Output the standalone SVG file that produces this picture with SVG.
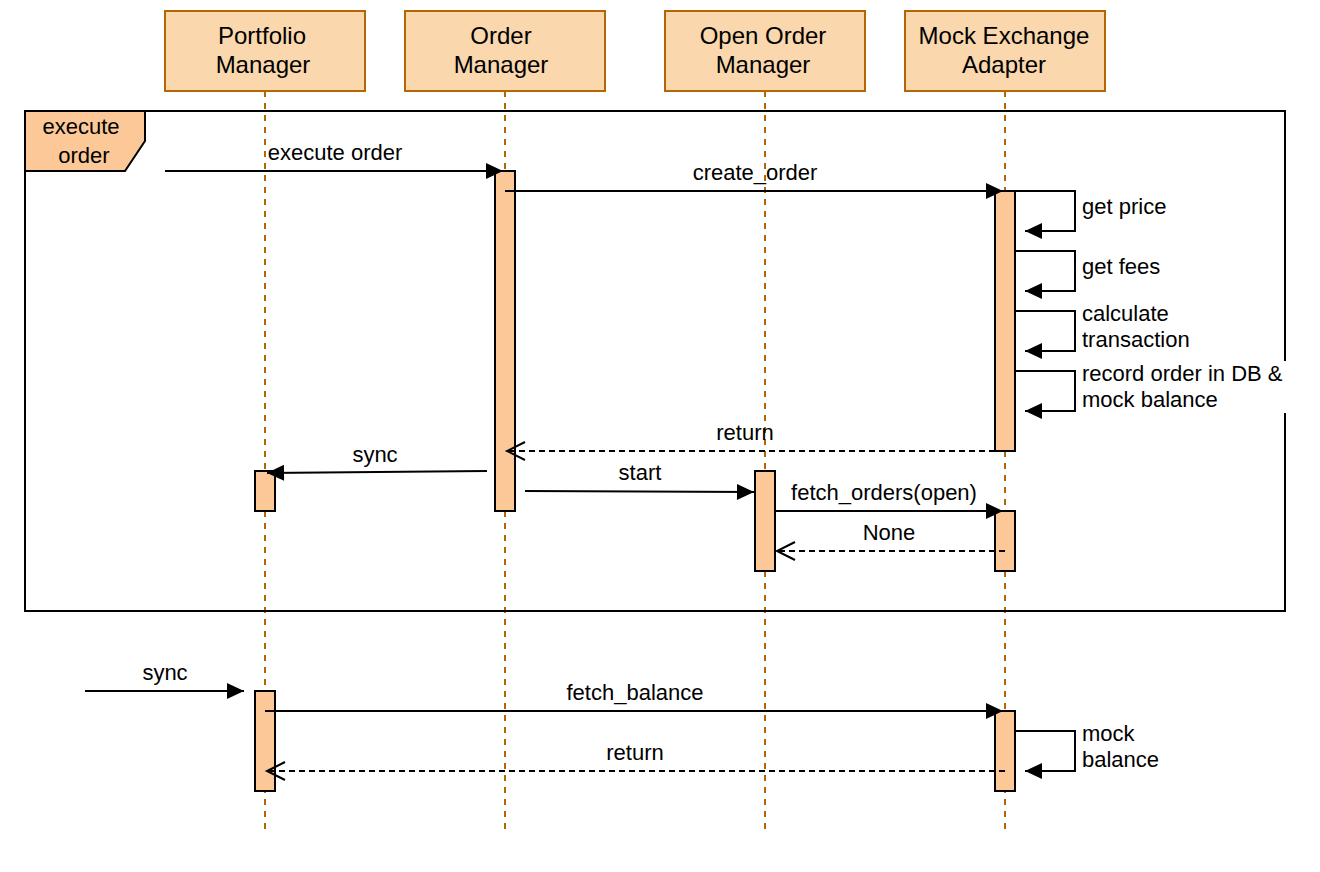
<svg xmlns="http://www.w3.org/2000/svg" width="1320" height="872" viewBox="0 0 1320 872">
<defs>
<style>
text{font-family:"Liberation Sans",Arial,Helvetica,sans-serif;fill:#000}
.hdr rect{fill:#fad7ac;stroke:#b46504;stroke-width:2}
.hdr text{font-size:24px;text-anchor:middle}
.life{stroke:#b46504;stroke-width:2;stroke-dasharray:6 6;fill:none}
.act{fill:#fcc898;stroke:#000;stroke-width:2}
.msg{stroke:#000;stroke-width:2;fill:none;marker-end:url(#block)}
.ret{stroke:#000;stroke-width:2;fill:none;stroke-dasharray:6 4;marker-end:url(#open)}
.lbl{font-size:22px;text-anchor:middle}
.lbl-l{font-size:22px;text-anchor:start}
</style>
<marker id="block" markerUnits="userSpaceOnUse" markerWidth="18" markerHeight="18" refX="17" refY="8" orient="auto" overflow="visible">
<path d="M0,0 L17,8 L0,16 z" fill="#000"/>
</marker>
<marker id="open" markerUnits="userSpaceOnUse" markerWidth="20" markerHeight="20" refX="18" refY="9" orient="auto" overflow="visible">
<path d="M0,0 L18,9 L0,18" fill="none" stroke="#000" stroke-width="2"/>
</marker>
</defs>
<rect width="1320" height="872" fill="#fff"/>

<g id="lifelines">
<line class="life" x1="265" y1="91" x2="265" y2="830"/>
<line class="life" x1="505" y1="91" x2="505" y2="830"/>
<line class="life" x1="765" y1="91" x2="765" y2="830"/>
<line class="life" x1="1005" y1="91" x2="1005" y2="830"/>
</g>

<g id="portfolio-manager" class="hdr">
<rect x="165" y="11" width="200" height="80"/>
<text x="262" y="44">Portfolio</text>
<text x="263" y="73">Manager</text>
</g>
<g id="order-manager" class="hdr">
<rect x="405" y="11" width="200" height="80"/>
<text x="501" y="44">Order</text>
<text x="501" y="73">Manager</text>
</g>
<g id="open-order-manager" class="hdr">
<rect x="665" y="11" width="200" height="80"/>
<text x="763" y="44">Open Order</text>
<text x="763" y="73">Manager</text>
</g>
<g id="mock-exchange-adapter" class="hdr">
<rect x="905" y="11" width="200" height="80"/>
<text x="1004" y="44">Mock Exchange</text>
<text x="1004" y="73">Adapter</text>
</g>

<g id="frame-execute-order">
<rect x="25" y="111" width="1260" height="500" fill="none" stroke="#000" stroke-width="2"/>
<path d="M25,111 L145,111 L145,141 L125,171 L25,171 z" fill="#fcc898" stroke="#000" stroke-width="2"/>
<text class="lbl" x="81" y="134">execute</text>
<text class="lbl" x="84" y="163">order</text>
</g>

<g id="activations">
<rect id="act-om" class="act" x="495" y="171" width="20" height="340"/>
<rect id="act-mea1" class="act" x="995" y="191" width="20" height="260"/>
<rect id="act-pm1" class="act" x="255" y="471" width="20" height="40"/>
<rect id="act-oom" class="act" x="755" y="471" width="20" height="100"/>
<rect id="act-mea2" class="act" x="995" y="511" width="20" height="60"/>
<rect id="act-pm2" class="act" x="255" y="691" width="20" height="100"/>
<rect id="act-mea3" class="act" x="995" y="711" width="20" height="80"/>
</g>

<g id="connectors">
<line class="msg" x1="165" y1="171" x2="503" y2="171"/>
<line class="msg" x1="505" y1="191" x2="1003" y2="191"/>
<polyline class="msg" points="1015,191 1075,191 1075,231 1025,231"/>
<polyline class="msg" points="1015,251 1075,251 1075,291 1025,291"/>
<polyline class="msg" points="1015,311 1075,311 1075,351 1025,351"/>
<polyline class="msg" points="1015,371 1075,371 1075,411 1025,411"/>
<line class="ret" x1="995" y1="451" x2="507" y2="451"/>
<line class="msg" x1="487" y1="471" x2="267" y2="473"/>
<line class="msg" x1="525" y1="491" x2="754" y2="492"/>
<line class="msg" x1="775" y1="511" x2="1003" y2="511"/>
<line class="ret" x1="1005" y1="551" x2="777" y2="551"/>
<line class="msg" x1="85" y1="691" x2="244" y2="691"/>
<line class="msg" x1="265" y1="711" x2="1003" y2="711"/>
<polyline class="msg" points="1015,731 1075,731 1075,771 1025,771"/>
<line class="ret" x1="1005" y1="771" x2="267" y2="771"/>
</g>

<g id="labels">
<text class="lbl" x="335" y="160">execute order</text>
<text class="lbl" x="755" y="180">create_order</text>
<text class="lbl-l" x="1082" y="214">get price</text>
<text class="lbl-l" x="1082" y="274">get fees</text>
<text class="lbl-l" x="1082" y="321">calculate</text>
<text class="lbl-l" x="1082" y="347">transaction</text>
<rect x="1079" y="361" width="210" height="52" fill="#fff"/>
<text class="lbl-l" x="1082" y="381">record order in DB &amp;</text>
<text class="lbl-l" x="1082" y="407">mock balance</text>
<text class="lbl" x="745" y="440">return</text>
<text class="lbl" x="375" y="462">sync</text>
<text class="lbl" x="640" y="480">start</text>
<text class="lbl" x="884" y="500">fetch_orders(open)</text>
<text class="lbl" x="889" y="540">None</text>
<text class="lbl" x="165" y="680">sync</text>
<text class="lbl" x="635" y="700">fetch_balance</text>
<text class="lbl-l" x="1082" y="741">mock</text>
<text class="lbl-l" x="1082" y="767">balance</text>
<text class="lbl" x="635" y="760">return</text>
</g>
</svg>
